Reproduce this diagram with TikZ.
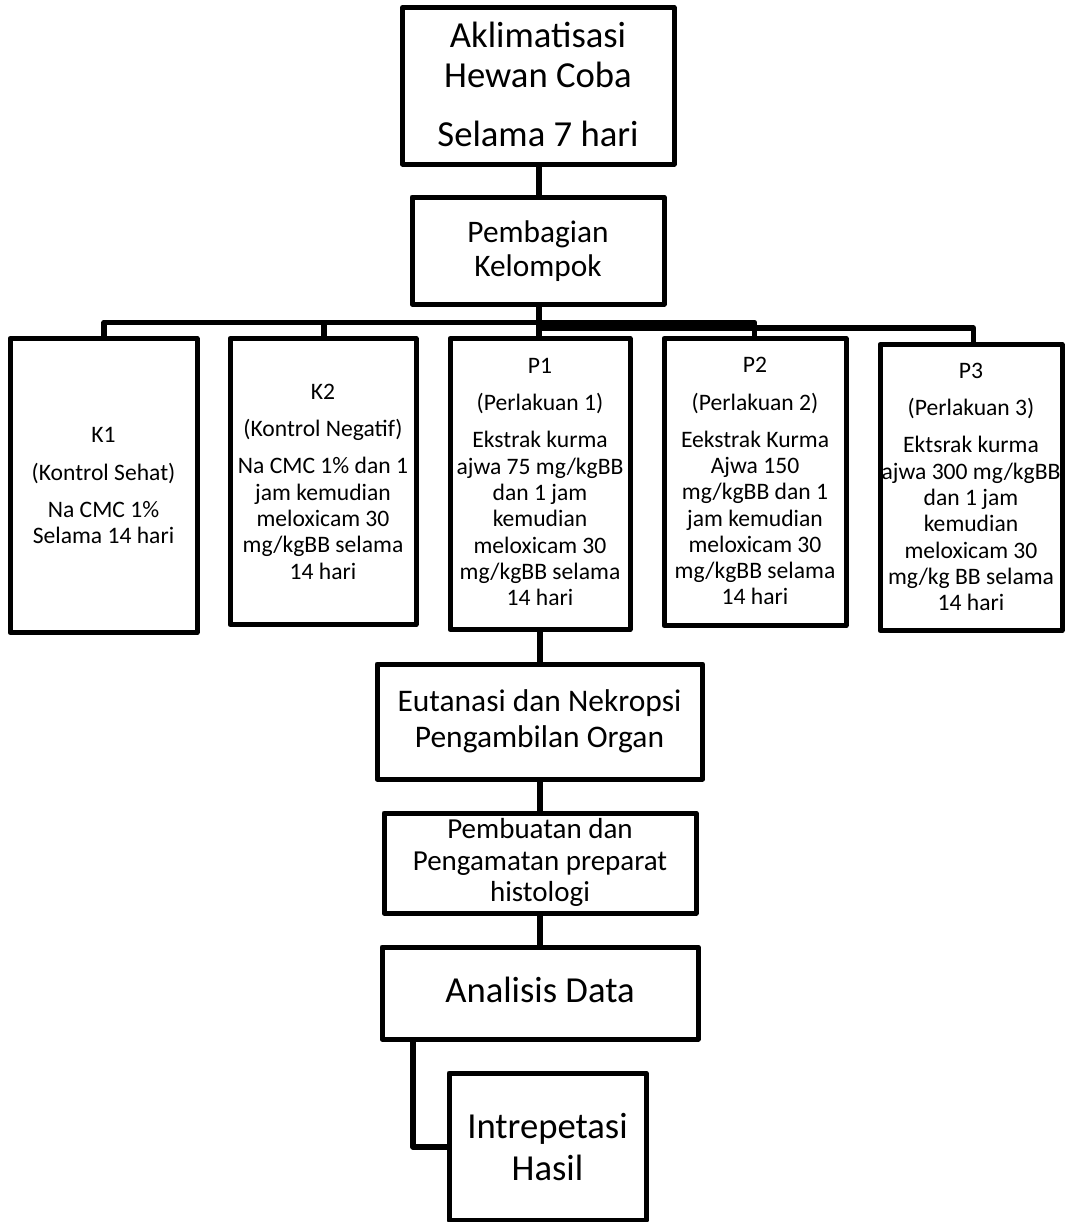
\documentclass[tikz,border=0pt]{standalone}
\usepackage{fontspec}
\setmainfont{Carlito}
\usetikzlibrary{fit}
\begin{document}
\begin{tikzpicture}[x=0.75pt,y=-0.75pt,
  box/.style={draw, line width=3.75pt, line join=round, inner sep=0pt, outer sep=0pt},
  conn/.style={draw, line width=4.1pt, line join=round},
  txt/.style={anchor=north, inner sep=0pt, outer sep=0pt, align=center},
  fbig/.style={font=\fontsize{27.5pt}{30pt}\selectfont},
  fpemb/.style={font=\fontsize{23.5pt}{25.5pt}\selectfont},
  fsmall/.style={font=\fontsize{17.7pt}{19.7pt}\selectfont},
  feut/.style={font=\fontsize{23.6pt}{26.7pt}\selectfont},
  fbuat/.style={font=\fontsize{21.75pt}{23.6pt}\selectfont},
  fint/.style={font=\fontsize{27.5pt}{31.5pt}\selectfont},
]
\fill[white] (0,0) rectangle (1067,1222);
\useasboundingbox (0,0) rectangle (1067,1222);

% boxes
\node[box, fit={(402.5,7.5) (674,164)}] (top) {};
\node[box, fit={(412,197) (664,304)}] (pemb) {};
\node[box, fit={(10,338.5) (197,632.5)}] (k1) {};
\node[box, fit={(230,338.5) (416,624.5)}] (k2) {};
\node[box, fit={(450,338.5) (630,629.5)}] (p1) {};
\node[box, fit={(664,338.5) (846,625.5)}] (p2) {};
\node[box, fit={(880,344.5) (1062,630.5)}] (p3) {};
\node[box, fit={(377,664) (702.5,779)}] (eut) {};
\node[box, fit={(384,813) (696,913)}] (buat) {};
\node[box, fit={(382,947) (698,1039)}] (anl) {};
\node[box, fit={(449,1073) (646,1220)}] (intr) {};

% texts
\node[txt, fbig] (toptxt) at (538,11.3) {\rule{0pt}{1em}Aklimatisasi\\Hewan Coba\\[14.25pt]Selama 7 hari};
\node[txt, fpemb] (pembtxt) at (538,211.6) {\rule{0pt}{1em}Pembagian\\Kelompok};
\node[txt, fsmall] (k1txt) at (103.5,419.1) {\rule{0pt}{1em}K1\\[8.3pt](Kontrol Sehat)\\[8.3pt]Na CMC 1\%\\Selama 14 hari};
\node[txt, fsmall] (k2txt) at (323,375.7) {\rule{0pt}{1em}K2\\[8.3pt](Kontrol Negatif)\\[8.3pt]Na CMC 1\% dan 1\\jam kemudian\\meloxicam 30\\mg/kgBB selama\\14 hari};
\node[txt, fsmall] (p1txt) at (540,349.7) {\rule{0pt}{1em}P1\\[8.3pt](Perlakuan 1)\\[8.3pt]Ekstrak kurma\\ajwa 75 mg/kgBB\\dan 1 jam\\kemudian\\meloxicam 30\\mg/kgBB selama\\14 hari};
\node[txt, fsmall] (p2txt) at (755,349.1) {\rule{0pt}{1em}P2\\[8.3pt](Perlakuan 2)\\[8.3pt]Eekstrak Kurma\\Ajwa 150\\mg/kgBB dan 1\\jam kemudian\\meloxicam 30\\mg/kgBB selama\\14 hari};
\node[txt, fsmall] (p3txt) at (971,354.7) {\rule{0pt}{1em}P3\\[8.3pt](Perlakuan 3)\\[8.3pt]Ektsrak kurma\\ajwa 300 mg/kgBB\\dan 1 jam\\kemudian\\meloxicam 30\\mg/kg BB selama\\14 hari};
\node[txt, feut] (euttxt) at (539.5,680.5) {\rule{0pt}{1em}Eutanasi dan Nekropsi\\Pengambilan Organ};
\node[txt, fbuat] (buattxt) at (540,809.6) {\rule{0pt}{1em}Pembuatan dan\\Pengamatan preparat\\histologi};
\node[txt, fbig] (anltxt) at (540,965.9) {\rule{0pt}{1em}Analisis Data};
\node[txt, fint] (intrtxt) at (547.5,1101.4) {\rule{0pt}{1em}Intrepetasi\\Hasil};

% connectors
\coordinate (ba1) at (104,322.5);
\coordinate (ba2) at (754.5,322.5);
\coordinate (bk2) at (324,322.5);
\coordinate (bb1) at (539,328);
\coordinate (bb2) at (973.5,328);
\coordinate (ai) at (413,1147);

\draw[conn] (top.south -| bb1) -- (pemb.north -| bb1);
\draw[conn] (pemb.south -| bb1) -- (p1.north -| bb1);
\draw[conn] (k1.north -| ba1) -- (ba1) -- (ba2) -- (p2.north -| ba2);
\draw[conn] (bk2) -- (k2.north -| bk2);
\draw[conn] (bb1) -- (bb2) -- (p3.north -| bb2);
\draw[conn] (p1.south) -- (eut.north -| p1.south);
\draw[conn] (eut.south -| p1.south) -- (buat.north -| p1.south);
\draw[conn] (buat.south -| p1.south) -- (anl.north -| p1.south);
\draw[conn] (anl.south -| ai) -- (ai) -- (intr.west |- ai);
\end{tikzpicture}
\end{document}
